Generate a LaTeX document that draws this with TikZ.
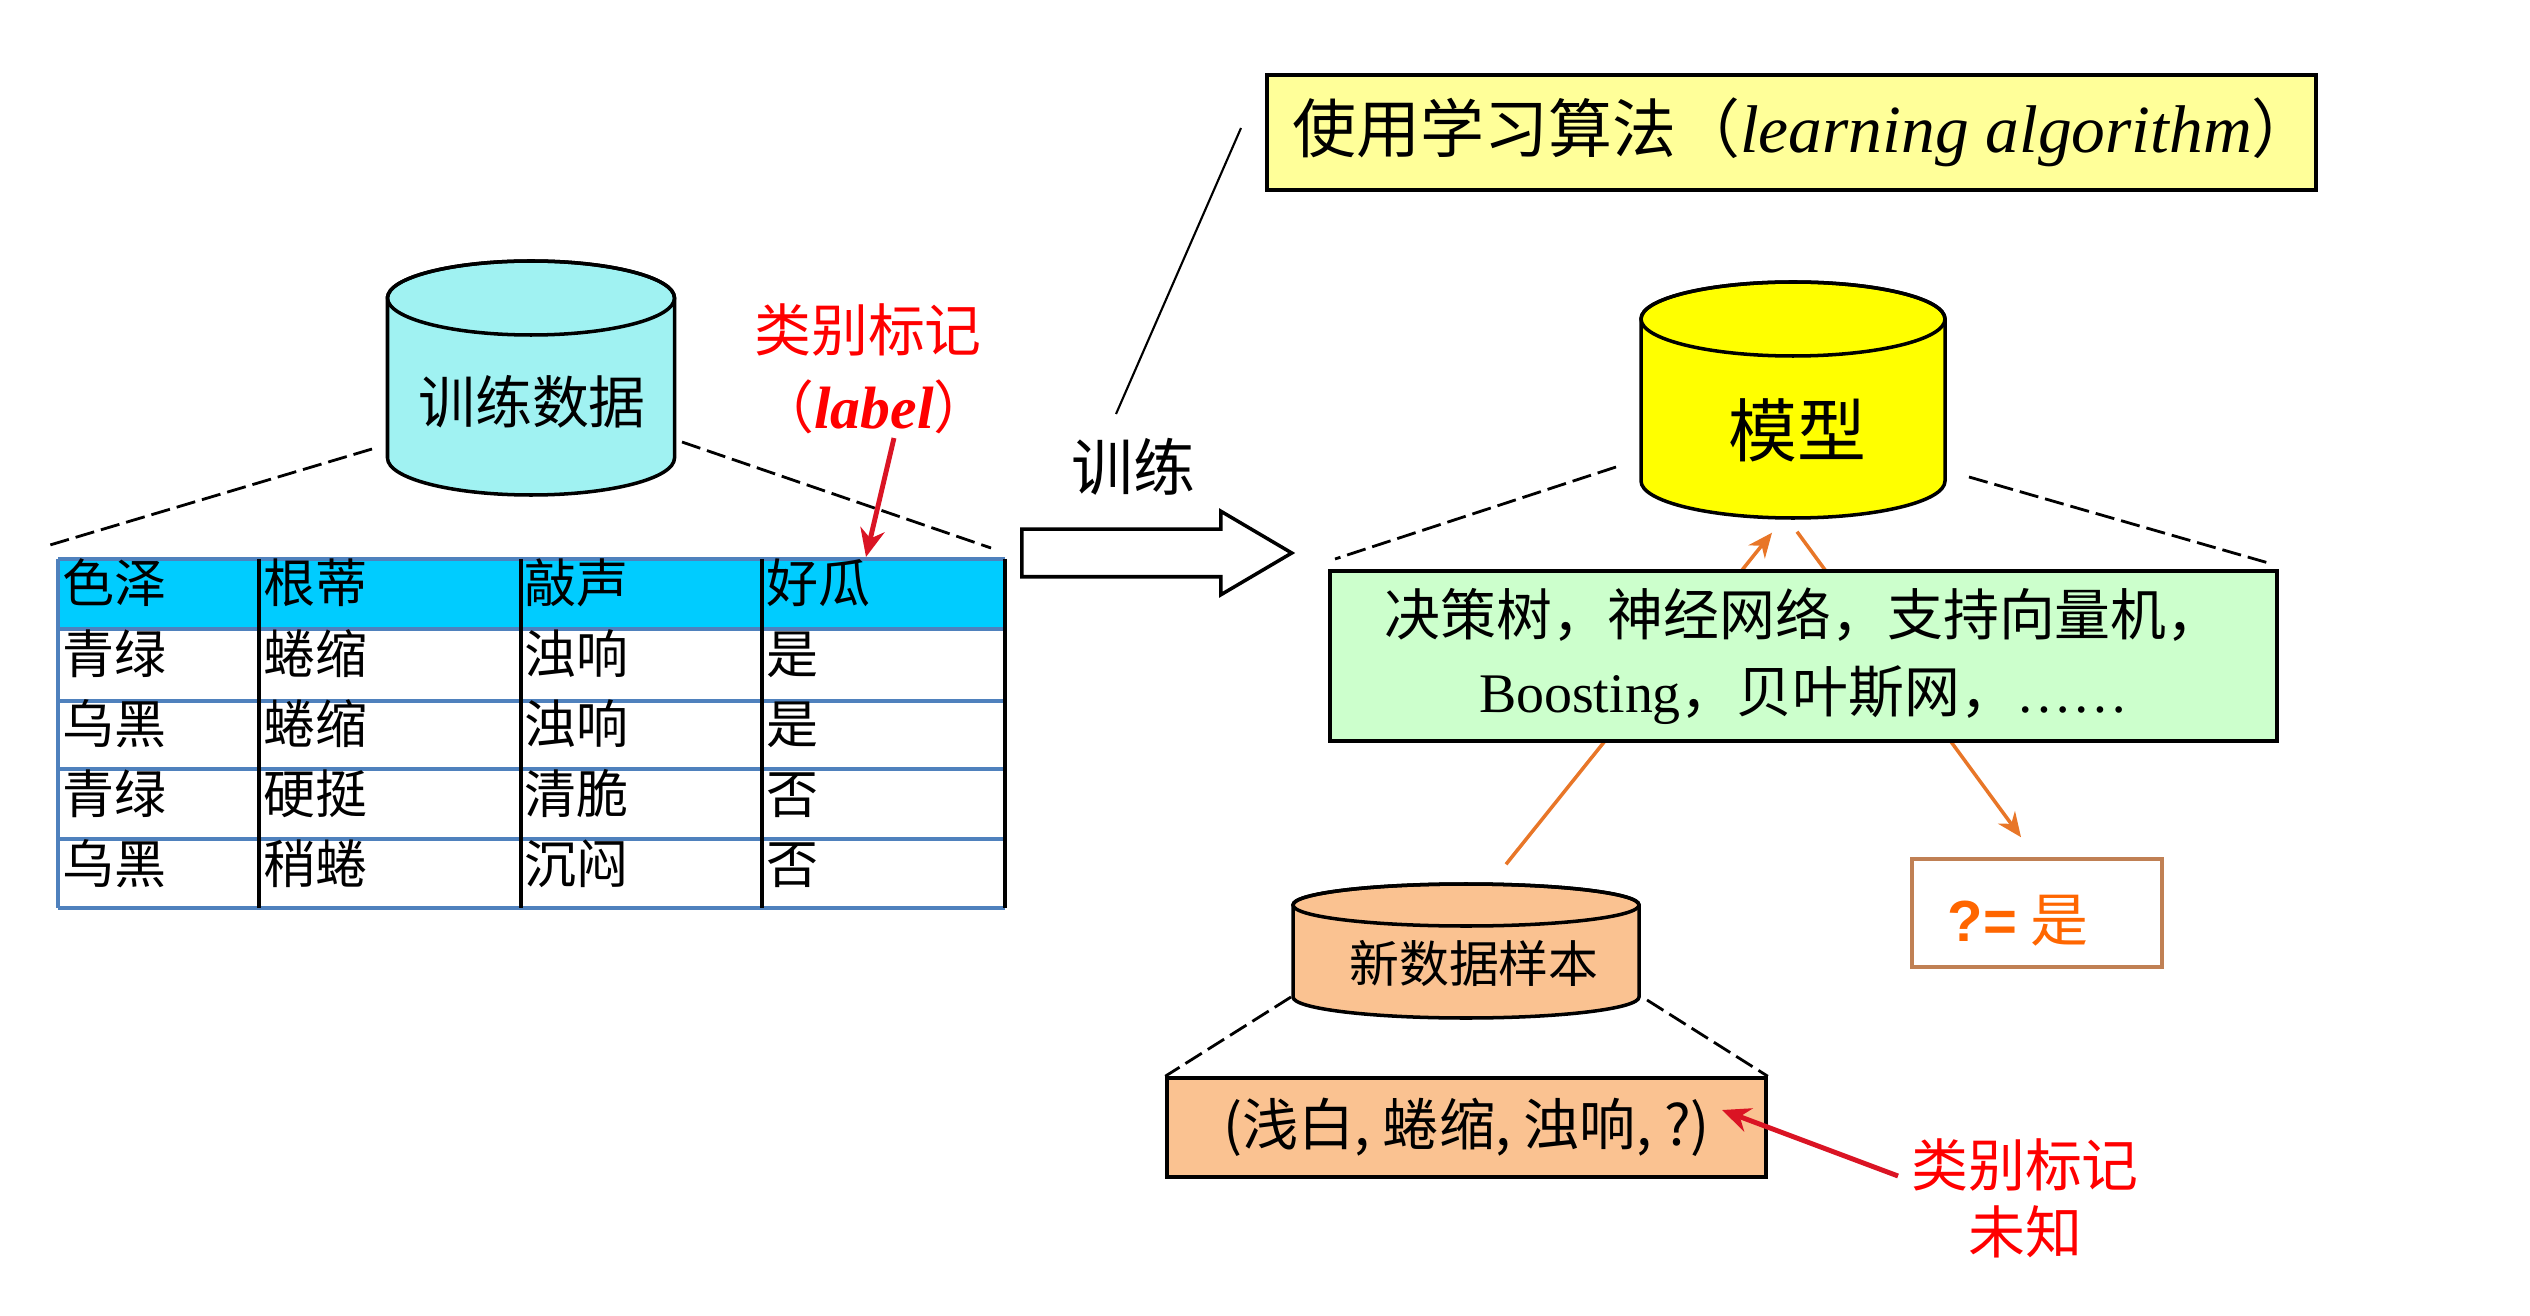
\documentclass[tikz,border=0pt]{standalone}
\usepackage{fontspec}
\setmainfont{Noto Sans CJK SC}
\newfontfamily\latinfont{Liberation Serif}
\newfontfamily\sansfont{Liberation Sans}
\usetikzlibrary{shapes.arrows,arrows.meta,positioning}

\definecolor{dbcyan}{RGB}{160,242,242}
\definecolor{headcyan}{RGB}{0,204,255}
\definecolor{tblue}{RGB}{79,129,189}
\definecolor{algoyellow}{RGB}{255,255,153}
\definecolor{modelyellow}{RGB}{255,255,0}
\definecolor{algogreen}{RGB}{204,255,204}
\definecolor{peach}{RGB}{250,194,145}
\definecolor{arrowor}{RGB}{232,118,40}
\definecolor{resultedge}{RGB}{192,128,84}
\definecolor{resultor}{RGB}{255,102,0}
\definecolor{labred}{RGB}{255,0,0}
\definecolor{arrowred}{RGB}{218,20,36}

% database drum: name, centre x, top, bottom, x radius, y radius, fill
\newcommand{\dbcyl}[7]{%
  \filldraw[line width=1pt, fill=#7]
    (#2-#5,#3+#6) -- (#2-#5,#4-#6)
    arc[start angle=180, end angle=360, x radius=#5*0.1mm, y radius=#6*0.1mm]
    -- (#2+#5,#3+#6)
    arc[start angle=0, end angle=180, x radius=#5*0.1mm, y radius=#6*0.1mm] -- cycle;
  \draw[line width=1pt] (#2,#3+#6) ellipse[x radius=#5*0.1mm, y radius=#6*0.1mm];
  \node[inner sep=0pt, minimum width=2*#5*0.1mm, minimum height=(#4-#3)*0.1mm] (#1) at (#2,{(#3+#4)/2}) {};
}

\tikzset{
  box/.style={draw, line width=1pt, inner sep=0pt},
  zoomline/.style={line width=0.8pt, dash pattern=on 5.5pt off 2pt},
  redarrow/.style={draw=arrowred, line width=1.4pt, -{Stealth[length=8pt,width=7pt]}},
  orarrow/.style={draw=arrowor, line width=1pt, -{Stealth[length=7pt,width=6pt]}},
  cell/.style={anchor=base west, inner sep=0pt, font=\fontsize{14.8}{17}\selectfont},
}

\begin{document}
\begin{tikzpicture}[x=0.1mm,y=-0.1mm]
\useasboundingbox (0,0) rectangle (2530,1316);

% training data and its table
\dbcyl{train}{531}{261}{495}{143.5}{37}{dbcyan}
\node[font=\fontsize{16.2}{19}\selectfont] (traintext) at (532,402) {训练数据};

\fill[headcyan] (58,559) rectangle (1005,629);
\foreach \y in {559,629,701,769,839,908}
  \draw[tblue, line width=1.1pt] (58,\y) -- (1005,\y);
\foreach \x in {259,521,762,1005}
  \draw[line width=0.9pt] (\x,559) -- (\x,908);
\draw[tblue, line width=1.1pt] (58,559) -- (58,908);

\foreach \a/\b/\c/\d [count=\r] in {色泽/根蒂/敲声/好瓜, 青绿/蜷缩/浊响/是, 乌黑/蜷缩/浊响/是, 青绿/硬挺/清脆/否, 乌黑/稍蜷/沉闷/否}{
  \pgfmathsetmacro\base{533+70*\r}
  \node[cell] (c\r a) at (62,\base) {\a};
  \node[cell] (c\r b) at (263,\base) {\b};
  \node[cell] (c\r c) at (524,\base) {\c};
  \node[cell] (c\r d) at (766,\base) {\d};
}

\coordinate (trainL) at (372,449);
\coordinate (trainR) at (682,442);
\coordinate (tblNW) at (50,545);
\coordinate (tblNE) at (991,548);
\draw[zoomline] (trainL) -- (tblNW);
\draw[zoomline] (trainR) -- (tblNE);

% class label
\node[text=labred, font=\fontsize{16.2}{19}\selectfont] (lab) at (868,330) {类别标记};
\node[text=labred, font=\fontsize{16.2}{19}\selectfont] (labname) at (874,407) {（{\latinfont\bfseries\itshape\fontsize{17}{19}\selectfont label}）};
\coordinate (labfoot) at (894,438);
\coordinate (labtip) at (866,557);
\draw[redarrow] (labfoot) -- (labtip);

% training step
\node[single arrow, draw, line width=1pt, fill=white, anchor=tail, inner xsep=0pt, inner ysep=2.2mm,
      minimum height=27mm, single arrow head extend=1.8mm,
      single arrow tip angle=61] (trainarrow) at (1020,553) {};
\node[font=\fontsize{17.6}{21}\selectfont] (trainlbl) at (1133,467) {训练};

\node[box, fill=algoyellow, minimum width=104.9mm, minimum height=11.5mm,
      font=\fontsize{18.2}{21}\selectfont] (algo) at (1791.5,132.5)
      {\kern2.5mm 使用学习算法（{\latinfont\itshape\fontsize{19.2}{21}\selectfont learning algorithm}）};
\coordinate (algofoot) at (1116,414);
\coordinate (algohead) at (1241,128);
\draw[line width=0.6pt] (algofoot) -- (algohead);

% model
\dbcyl{model}{1793}{282}{518}{152}{37}{modelyellow}
\node[font=\fontsize{19.6}{23}\selectfont] (modeltext) at (1797,430) {模型};

\node[draw=resultedge, line width=1pt, fill=white, minimum width=25mm, minimum height=10.8mm] (result) at (2037,913) {};
\node[anchor=west, inner sep=0pt, text=resultor, font=\fontsize{16.5}{19}\selectfont] (resulttext) at (1947,921) {{\sansfont\bfseries ?=} 是};

\dbcyl{newdata}{1466}{884}{1018}{173}{21}{peach}
\node[font=\fontsize{14.2}{17}\selectfont] (newtext) at (1474,964) {新数据样本};

\draw[orarrow] ([xshift=4mm,yshift=1.9mm]newdata.north) -- ([xshift=-2.1mm,yshift=-1.4mm]model.south);
\draw[orarrow] ([xshift=0.4mm,yshift=-1.3mm]model.south) -- ([xshift=-1.6mm,yshift=2mm]result.north);

\node[box, fill=algogreen, minimum width=94.7mm, minimum height=17mm, align=center,
      font=\fontsize{15.9}{22}\selectfont] (algos) at (1803.5,656)
      {决策树，神经网络，支持向量机，\\{\latinfont Boosting}，贝叶斯网，{\latinfont ……}};

\coordinate (modelL) at (1616,467);
\coordinate (modelR) at (1969,477);
\coordinate (algosNW) at (1335,559);
\coordinate (algosNE) at (2272,564);
\draw[zoomline] (modelL) -- (algosNW);
\draw[zoomline] (modelR) -- (algosNE);

% new sample
\node[box, fill=peach, minimum width=59.9mm, minimum height=9.9mm,
      font=\fontsize{16}{19}\selectfont] (sample) at (1466.5,1127.5) {(浅白, 蜷缩, 浊响, ?)};
\coordinate (newL) at (1291,997);
\coordinate (newR) at (1647,1000);
\draw[zoomline] (newL) -- (sample.north west);
\draw[zoomline] (newR) -- (sample.north east);

\node[align=center, text=labred, font=\fontsize{16.2}{19}\selectfont] (unknown) at (2025,1198) {类别标记\\未知};
\coordinate (unkfoot) at (1898,1176);
\coordinate (unktip) at (1722,1110);
\draw[redarrow] (unkfoot) -- (unktip);

\end{tikzpicture}
\end{document}
